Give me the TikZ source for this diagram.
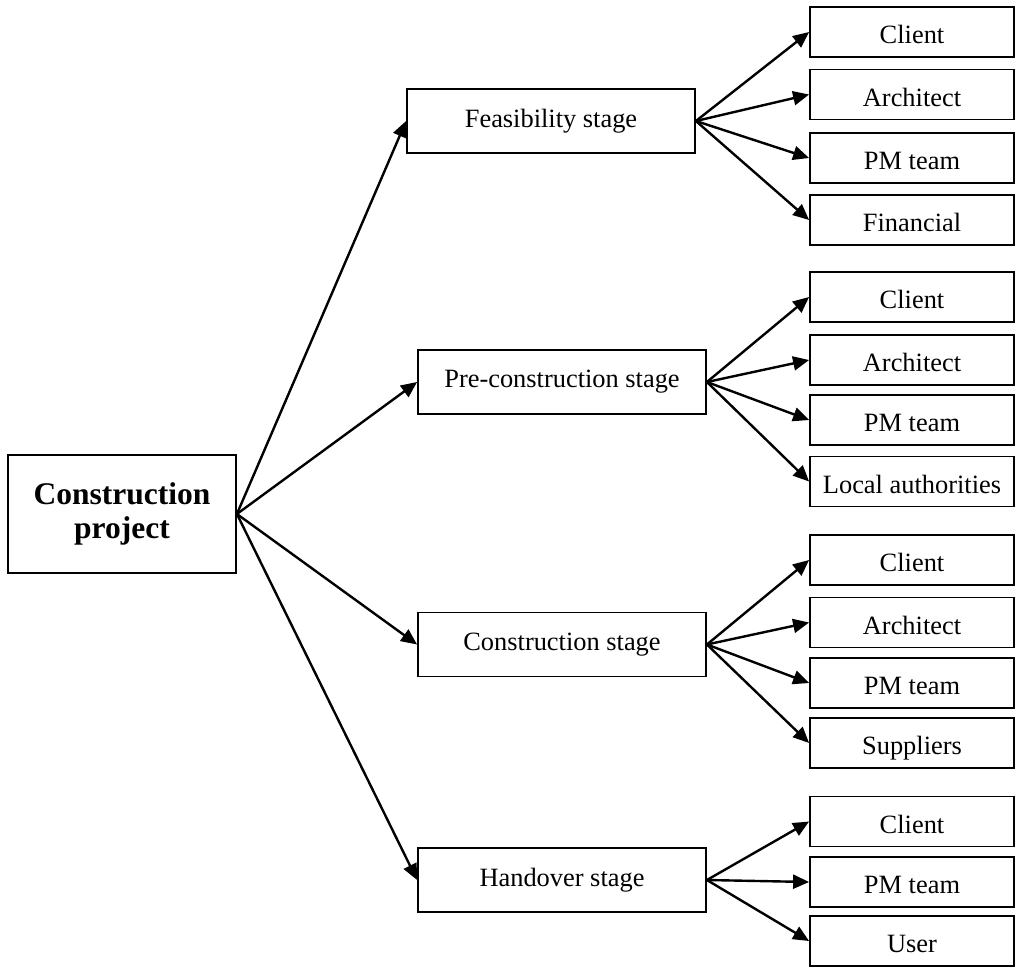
\documentclass[tikz,border=0pt]{standalone}
\usepackage{fontspec}
\setmainfont{Liberation Serif}
\usetikzlibrary{arrows.meta}
\begin{document}
\begin{tikzpicture}[x=1pt,y=-1pt,
  box/.style={draw=black,line width=1.8pt,fill=white,inner sep=0pt,
    font=\fontsize{26.4}{30}\selectfont},
  rootbox/.style={box,minimum width=228pt,minimum height=118pt,align=center,
    font=\fontsize{31.5}{36}\selectfont\bfseries},
  stagebox/.style={box,minimum width=288pt,minimum height=64pt},
  leafbox/.style={box,minimum width=204pt,minimum height=50pt,
    text height=23pt,text depth=0pt},
  link/.style={line width=2.4pt,-{Triangle[length=16pt,width=14pt]}}]
\useasboundingbox (0,0) rectangle (1028,967);

% root
\node[rootbox] (root) at (122,514) {Construction\\[-2pt]project};

% stages
\node[stagebox] (feas) at (551,121) {Feasibility stage};
\node[stagebox] (pre)  at (562,382) {Pre-construction stage};
\node[stagebox] (cons) at (562,644.5) {Construction stage};
\node[stagebox] (hand) at (562,880) {Handover stage};

% participants per stage
\node[leafbox] (f1) at (912,32)    {Client};
\node[leafbox] (f2) at (912,94.5)  {Architect};
\node[leafbox] (f3) at (912,158)   {PM team};
\node[leafbox] (f4) at (912,220)   {Financial};

\node[leafbox] (p1) at (912,297)   {Client};
\node[leafbox] (p2) at (912,360)   {Architect};
\node[leafbox] (p3) at (912,420)   {PM team};
\node[leafbox] (p4) at (912,481.5) {Local authorities};

\node[leafbox] (c1) at (912,560)   {Client};
\node[leafbox] (c2) at (912,622.5) {Architect};
\node[leafbox] (c3) at (912,683)   {PM team};
\node[leafbox] (c4) at (912,743)   {Suppliers};

\node[leafbox] (h1) at (912,821.5) {Client};
\node[leafbox] (h2) at (912,882)   {PM team};
\node[leafbox] (h3) at (912,941)   {User};

% root to stages
\foreach \s in {feas,pre,cons,hand}
  \draw[link] (root.east) -- (\s.west);

% stages to participants
\foreach \s/\l in {feas/f1,feas/f2,feas/f3,feas/f4,
                   pre/p1,pre/p2,pre/p3,pre/p4,
                   cons/c1,cons/c2,cons/c3,cons/c4,
                   hand/h1,hand/h2,hand/h3}
  \draw[link] (\s.east) -- (\l.west);
\end{tikzpicture}
\end{document}
